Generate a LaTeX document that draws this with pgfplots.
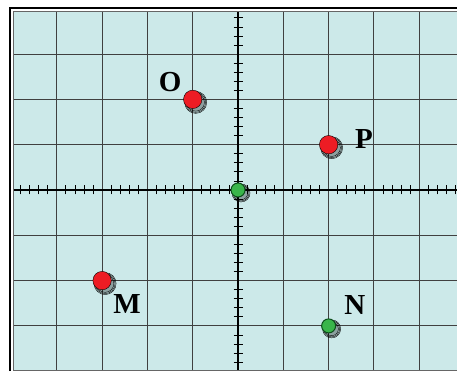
\documentclass[border=0pt]{standalone}
\usepackage{fontspec}
\setmainfont{Liberation Serif}
\usepackage{pgfplots}
\pgfplotsset{compat=1.18}
\definecolor{bg}{HTML}{CCE9E9}
\definecolor{ptred}{HTML}{ED1C24}
\definecolor{ptgreen}{HTML}{39B54A}
\definecolor{ptdkgreen}{HTML}{0B4D1A}
\begin{document}
\begin{tikzpicture}
\begin{axis}[
 scale only axis, x=45.3pt, y=45.3pt,
 xmin=-4.967, xmax=4.834, ymin=-3.974, ymax=3.929,
 axis lines=middle,
 axis line style={-, line width=1.3pt, black},
 every inner x axis line/.append style={-},
 every inner y axis line/.append style={-},
 axis background/.style={fill=bg},
 xtick={-5,...,5}, ytick={-4,...,4},
 xticklabels={}, yticklabels={},
 minor tick num=4,
 major tick length=0pt, minor tick length=9pt,
 tick align=center,
 tick style={black, line width=0.8pt},
 grid=major,
 major grid style={black!75, line width=1.1pt},
 clip=false,
]
\coordinate (bbl) at (axis cs:-5.254,-3.996);
\coordinate (btr) at (axis cs:4.834,4.194);
% plot border
\draw[black!60, line width=1pt] (axis cs:4.834,-3.974) -- (axis cs:-4.967,-3.974) -- (axis cs:-4.967,3.929) -- (axis cs:4.834,3.929);
% outer frame
\draw[black, line width=2.5pt] (axis cs:-5.033,-3.996) -- (axis cs:-5.033,4.018) -- (axis cs:4.834,4.018);
% shadows
\addplot[only marks, mark=*, mark size=11pt, mark options={fill=black, draw=none, fill opacity=0.06, xshift=3pt, yshift=-3pt}] coordinates {(-1,2) (2,1) (-3,-2)};
\addplot[only marks, mark=*, mark size=10pt, mark options={fill=black, draw=none, fill opacity=0.1, xshift=3pt, yshift=-3pt}] coordinates {(-1,2) (2,1) (-3,-2)};
\addplot[only marks, mark=*, mark size=8.8pt, mark options={fill=black, draw=none, fill opacity=0.18, xshift=3pt, yshift=-3pt}] coordinates {(-1,2) (2,1) (-3,-2)};
\addplot[only marks, mark=*, mark size=9pt, mark options={fill=black, draw=none, fill opacity=0.06, xshift=3pt, yshift=-3pt}] coordinates {(2,-3) (0,0)};
\addplot[only marks, mark=*, mark size=8pt, mark options={fill=black, draw=none, fill opacity=0.1, xshift=3pt, yshift=-3pt}] coordinates {(2,-3) (0,0)};
\addplot[only marks, mark=*, mark size=6.8pt, mark options={fill=black, draw=none, fill opacity=0.18, xshift=3pt, yshift=-3pt}] coordinates {(2,-3) (0,0)};
% points
\addplot[only marks, mark=*, mark size=9.2pt, mark options={fill=ptred, draw=none}] coordinates {(-1,2) (2,1) (-3,-2)};
\addplot[only marks, mark=*, mark size=7pt, mark options={fill=ptgreen, draw=ptdkgreen, line width=1pt}] coordinates {(2,-3) (0,0)};
% labels
\node[font=\bfseries\fontsize{29}{29}\selectfont, inner sep=0pt] at (axis cs:-1.50,2.38) {O};
\node[font=\bfseries\fontsize{29}{29}\selectfont, inner sep=0pt] at (axis cs:2.78,1.13) {P};
\node[font=\bfseries\fontsize{29}{29}\selectfont, inner sep=0pt] at (axis cs:-2.45,-2.52) {M};
\node[font=\bfseries\fontsize{29}{29}\selectfont, inner sep=0pt] at (axis cs:2.58,-2.54) {N};
\end{axis}
\pgfresetboundingbox
\path[use as bounding box] (bbl) rectangle (btr);
\end{tikzpicture}
\end{document}
